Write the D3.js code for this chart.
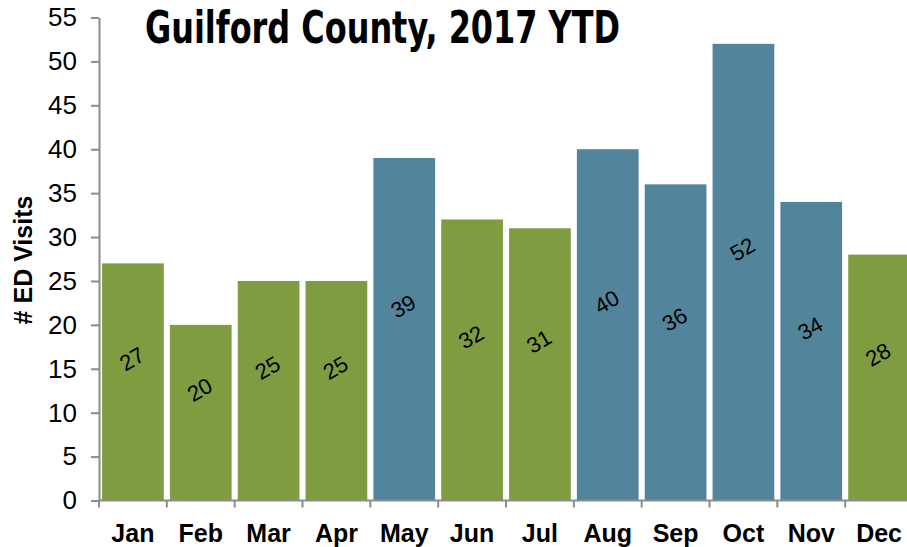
<!DOCTYPE html>
<html>
<head>
<meta charset="utf-8">
<script src="https://cdn.jsdelivr.net/npm/d3@7"></script>
<style>
  body { margin: 0; background: #fff; }
  svg { display: block; font-family: 'Liberation Sans', Arial, sans-serif; }
</style>
</head>
<body>
<div id="chart"></div>
<script>
// chart data
var months = ['Jan', 'Feb', 'Mar', 'Apr', 'May', 'Jun', 'Jul', 'Aug', 'Sep', 'Oct', 'Nov', 'Dec']
var visits = [27, 20, 25, 25, 39, 32, 31, 40, 36, 52, 34, 28]
var highlighted = [false, false, false, false, true, false, false, true, true, true, true, false]
var yTicks = [0, 5, 10, 15, 20, 25, 30, 35, 40, 45, 50, 55]

var svgWidth = 907
var svgHeight = 547

var green = '#7f9d40'
var blue = '#52849c'
var axisColor = '#8c8c8c'

var svg = d3.select('#chart')
      .append('svg')
      .attr('width', svgWidth)
      .attr('height', svgHeight)

var x = d3.scaleBand()
      .domain(months)
      .range([99, 913])
      .paddingInner(0.09)
      .paddingOuter(0.045)

var y = d3.scaleLinear()
      .domain([0, 55])
      .range([500.5, 17.5])

// bars
svg.selectAll('rect.bar')
      .data(months)
      .enter()
      .append('rect')
      .attr('class', 'bar')
      .attr('x', d => x(d))
      .attr('width', x.bandwidth())
      .attr('y', (d, i) => y(visits[i]))
      .attr('height', (d, i) => y(0) - y(visits[i]))
      .attr('fill', (d, i) => highlighted[i] ? blue : green)

// value labels, tilted
svg.selectAll('text.val')
      .data(months)
      .enter()
      .append('text')
      .attr('class', 'val')
      .attr('transform', (d, i) => {
            var cx = x(d) + x.bandwidth() / 2 - 1
            var cy = (y(visits[i]) + y(0)) / 2 - 23
            return `translate(${cx}, ${cy}) rotate(-30)`
      })
      .attr('text-anchor', 'middle')
      .attr('dy', '0.35em')
      .style('font-size', '22px')
      .style('fill', '#000')
      .text((d, i) => visits[i])

// y axis
var yAxis = svg.append('g')
      .attr('transform', 'translate(99, 0)')
      .call(d3.axisLeft(y).tickValues(yTicks).tickSize(8).tickPadding(14).tickSizeOuter(0))
yAxis.select('.domain').attr('stroke', axisColor).attr('stroke-width', 2)
yAxis.selectAll('.tick line').attr('stroke', axisColor).attr('stroke-width', 2)
yAxis.selectAll('.tick text')
      .attr('x', -22)
      .style('font-size', '26px')
      .style('font-family', "'Liberation Sans', Arial, sans-serif")
      .attr('fill', '#000')

// x axis with ticks between categories
var xAxis = svg.append('g')
      .attr('transform', `translate(0, ${y(0)})`)
xAxis.append('line')
      .attr('x1', 99).attr('x2', 913)
      .attr('stroke', axisColor).attr('stroke-width', 2)
var bounds = d3.range(months.length + 1).map(i => 99 + i * (814 / 12))
xAxis.selectAll('line.tk')
      .data(bounds)
      .enter()
      .append('line')
      .attr('class', 'tk')
      .attr('x1', d => d).attr('x2', d => d)
      .attr('y1', 0).attr('y2', 7)
      .attr('stroke', axisColor).attr('stroke-width', 2)
xAxis.selectAll('text')
      .data(months)
      .enter()
      .append('text')
      .attr('x', d => x(d) + x.bandwidth() / 2)
      .attr('y', 41)
      .attr('text-anchor', 'middle')
      .style('font-size', '25px')
      .style('font-weight', 'bold')
      .text(d => d)

// axis title
svg.append('text')
      .attr('transform', 'translate(32, 260) rotate(-90)')
      .attr('text-anchor', 'middle')
      .style('font-size', '25px')
      .style('font-weight', 'bold')
      .text('# ED Visits')

// chart title
svg.append('text')
      .attr('x', 145)
      .attr('y', 43)
      .attr('textLength', 475)
      .attr('lengthAdjust', 'spacingAndGlyphs')
      .style('font-family', "'Liberation Sans Narrow', 'DejaVu Sans Condensed', sans-serif")
      .style('font-stretch', 'condensed')
      .style('font-size', '44px')
      .style('font-weight', 'bold')
      .text('Guilford County, 2017 YTD')
</script>
</body>
</html>
